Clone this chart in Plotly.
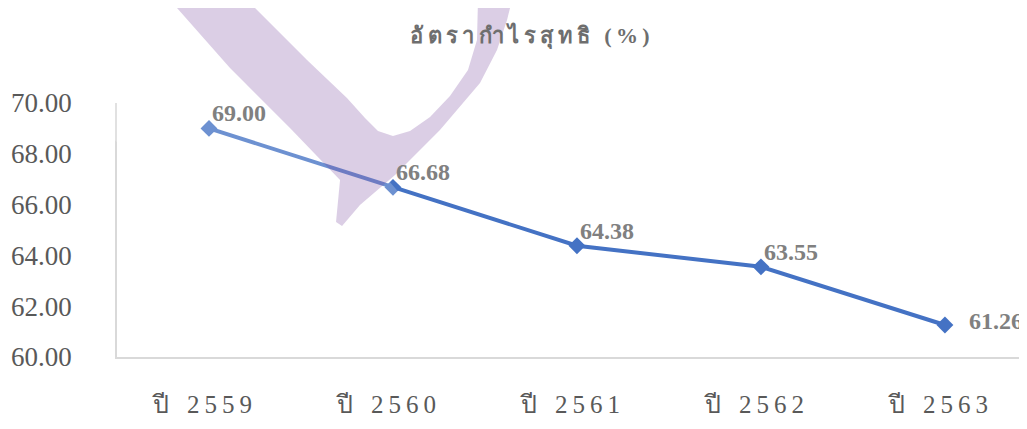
import plotly.graph_objects as go

# data
years = ["ปี 2559", "ปี 2560", "ปี 2561", "ปี 2562", "ปี 2563"]
net_margin = [69.00, 66.68, 64.38, 63.55, 61.26]
title_text = "อัตรากำไรสุทธิ (%)"

# page body has an 8px margin, so everything is laid out 8px in
OFF = 8
W, H = 1027 - OFF, 429 - OFF
L, R, T, B = 117 - OFF, 0, 103 - OFF, 72
THIN = "\u2009"
NBSP = "\u00a0"


def spaced(label):
    # Excel-style expanded character spacing on the year labels
    word, num = label.split(" ")
    return word + NBSP * 2 + THIN + THIN.join(num) + NBSP * 2


def spaced_thai(s):
    # put a thin space between character clusters (keep marks on their base)
    marks = set("\u0e31\u0e33\u0e34\u0e35\u0e36\u0e37\u0e38\u0e39\u0e3a"
                "\u0e47\u0e48\u0e49\u0e4a\u0e4b\u0e4c\u0e4d\u0e4e")
    clusters = []
    for ch in s:
        if clusters and ch in marks:
            clusters[-1] += ch
        else:
            clusters.append(ch)
    return THIN.join(clusters)


def to_paper(pts):
    # screen pixel coords -> paper coords (watermark only)
    pw = W - L - R
    ph = H - T - B
    out = []
    for i, (px, py) in enumerate(pts):
        x = (px - OFF - L) / pw
        y = (H - B - (py - OFF)) / ph
        out.append(("M" if i == 0 else "L") + f"{x:.4f},{y:.4f}")
    return " ".join(out) + " Z"


fig = go.Figure()

fig.add_trace(go.Scatter(
    x=years,
    y=net_margin,
    mode="lines+markers",
    line=dict(color="#4472C4", width=4),
    marker=dict(symbol="diamond", size=13, color="#4472C4"),
    showlegend=False,
    hoverinfo="x+y",
))

# data labels
for i, (yr, v) in enumerate(zip(years, net_margin)):
    last = i == len(years) - 1
    fig.add_annotation(
        x=yr, y=v, text=f"<b>{v:.2f}</b>", showarrow=False,
        xanchor="left", yanchor="middle" if last else "bottom",
        xshift=22 if last else 1, yshift=4 if last else 0,
        font=dict(family="Liberation Serif", size=24, color="#808080"),
    )

# watermark: faint white veil + purple hook
veil = [(95, 120), (290, 318), (402, 196), (232, 0), (120, 0)]
hook = [(170, 0), (230, 68), (290, 128), (340, 180), (336, 222), (342, 226),
        (360, 205), (395, 175), (440, 130), (480, 83), (497, 50), (507, 20),
        (512, 0), (478, 0), (477, 40), (468, 70), (450, 96), (430, 117),
        (410, 131), (393, 136), (378, 131), (365, 118), (347, 98),
        (307, 60), (247, 0)]
fig.add_shape(type="path", xref="paper", yref="paper", path=to_paper(veil),
              fillcolor="rgba(255,255,255,0.22)", line=dict(width=0), layer="above")
fig.add_shape(type="path", xref="paper", yref="paper", path=to_paper(hook),
              fillcolor="rgba(110,60,150,0.25)", line=dict(width=0), layer="above")

fig.update_xaxes(
    type="category",
    range=[-0.5, 4.446],
    tickvals=years, ticktext=[spaced(y) for y in years],
    showline=True, linecolor="#D9D9D9", linewidth=1.5,
    showgrid=False, zeroline=False,
    ticks="", ticklabelstandoff=24,
    tickfont=dict(family="Liberation Serif", size=25, color="#595959"),
)
fig.update_yaxes(
    range=[60, 70], dtick=2, tickformat=".2f",
    showline=True, linecolor="#D9D9D9", linewidth=1.5,
    showgrid=False, zeroline=False,
    ticks="", ticklabelstandoff=38,
    tickfont=dict(family="Liberation Serif", size=27, color="#595959"),
)

fig.update_layout(
    width=W, height=H,
    margin=dict(l=L, r=R, t=T, b=B),
    paper_bgcolor="white",
    plot_bgcolor="white",
    title=dict(
        text="<b>" + spaced_thai(title_text) + "</b>",
        x=(530 - OFF) / W, xanchor="center", xref="container",
        y=1 - (35 - OFF) / H, yanchor="middle", yref="container",
        font=dict(family="Liberation Serif", size=22, color="#6E6E6E"),
    ),
)

fig.write_html("out.html")
